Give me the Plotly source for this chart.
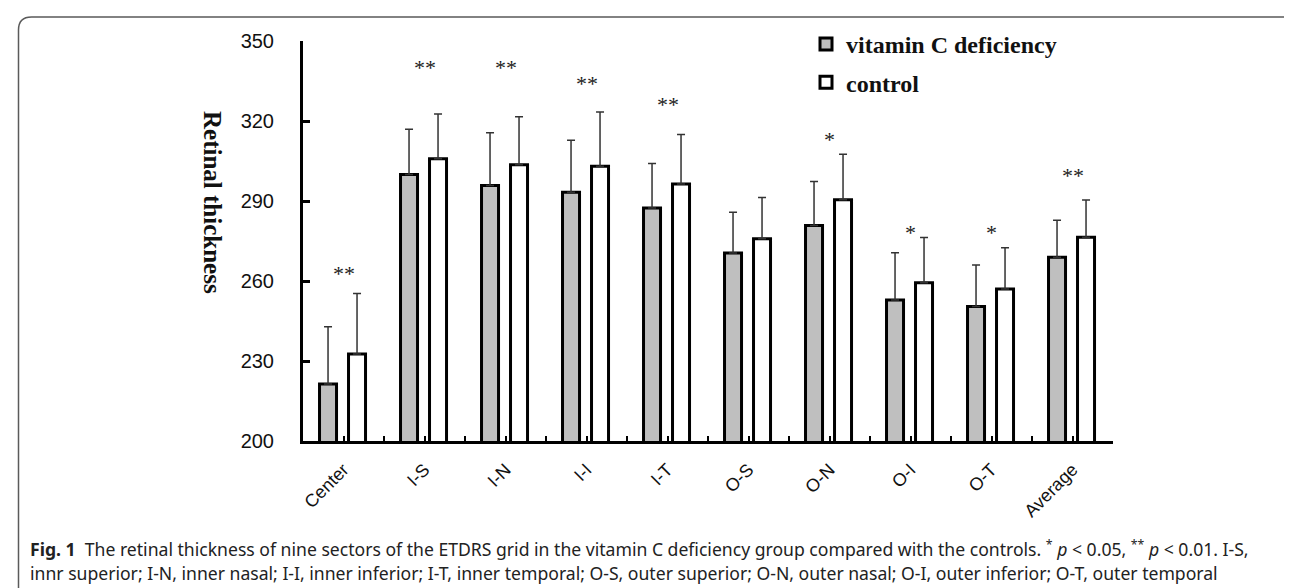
import plotly.graph_objects as go

# ---------------- data ----------------
categories = ["Center", "I-S", "I-N", "I-I", "I-T", "O-S", "O-N", "O-I", "O-T", "Average"]
vitc_values = [221.4, 299.9, 295.8, 293.3, 287.4, 270.5, 280.8, 252.9, 250.4, 268.9]
vitc_sd = [21.4, 17.0, 19.8, 19.5, 16.7, 15.3, 16.5, 17.7, 15.6, 13.9]
control_values = [232.6, 305.8, 303.6, 303.0, 296.4, 275.8, 290.5, 259.3, 257.0, 276.4]
control_sd = [22.7, 16.8, 18.0, 20.4, 18.5, 15.5, 17.0, 17.0, 15.5, 14.0]
sig_marks = ["**", "**", "**", "**", "**", "", "*", "*", "*", "**"]
sig_y = [260.6, 338.0, 338.0, 331.9, 324.0, None, 311.0, 275.9, 275.9, 297.3]
y_ticks = [200, 230, 260, 290, 320, 350]

# ---------------- layout geometry (px) ----------------
W, H = 1292, 588
ML, MR, MT, MB = 295, 187, 33, 155
PW, PH = W - ML - MR, H - MT - MB


def px_x(px):
    return (px - ML) / PW


def px_y(py):
    return (H - MB - py) / PH


x_idx = list(range(len(categories)))

fig = go.Figure()
fig.add_trace(go.Bar(
    x=x_idx, y=vitc_values, name="vitamin C deficiency",
    width=0.21, offset=-0.296,
    marker=dict(color="#bfbfbf", line=dict(color="black", width=3)),
    error_y=dict(type="data", array=vitc_sd, arrayminus=[0] * len(vitc_sd),
                 symmetric=False, color="#333333", thickness=1.5, width=4),
    legendgroup="a",
))
fig.add_trace(go.Bar(
    x=x_idx, y=control_values, name="control",
    width=0.21, offset=0.062,
    marker=dict(color="white", line=dict(color="black", width=3)),
    error_y=dict(type="data", array=control_sd, arrayminus=[0] * len(control_sd),
                 symmetric=False, color="#333333", thickness=1.5, width=4),
    legendgroup="b",
))

annotations = []
for i, (m, yv) in enumerate(zip(sig_marks, sig_y)):
    if not m:
        continue
    annotations.append(dict(
        x=i, y=yv, xref="x", yref="y", text=m, showarrow=False,
        font=dict(family="Liberation Serif", size=22, color="#222222"),
        xanchor="center", yanchor="middle", yshift=6,
    ))

# y-axis title (reads top to bottom)
annotations.append(dict(
    x=px_x(205), y=px_y(194), xref="paper", yref="paper",
    text="<b>Retinal thickness</b>", textangle=90, showarrow=False,
    font=dict(family="Liberation Serif", size=25, color="#111111"),
    xanchor="center", yanchor="middle",
))

# caption
cap1 = ("<b>Fig. 1</b>  The retinal thickness of nine sectors of the ETDRS grid in the vitamin C "
        "deficiency group compared with the controls. <sup>*</sup> <i>p</i> &lt; 0.05, "
        "<sup>**</sup> <i>p</i> &lt; 0.01. I-S,")
cap2 = ("innr superior; I-N, inner nasal; I-I, inner inferior; I-T, inner temporal; O-S, outer "
        "superior; O-N, outer nasal; O-I, outer inferior; O-T, outer temporal")
for txt, cy in ((cap1, 540), (cap2, 565)):
    annotations.append(dict(
        x=px_x(20), y=px_y(cy), xref="paper", yref="paper", text=txt,
        showarrow=False, xanchor="left", yanchor="middle", align="left",
        font=dict(family="Noto Sans", size=17.6, color="#222222"),
    ))

# rounded outer frame
L, T, R, B, r = 10.5, 9, 1290.5, 596, 13
path = (f"M {px_x(L)},{px_y(B)} L {px_x(L)},{px_y(T + r)} "
        f"Q {px_x(L)},{px_y(T)} {px_x(L + r)},{px_y(T)} "
        f"L {px_x(R - r)},{px_y(T)} Q {px_x(R)},{px_y(T)} {px_x(R)},{px_y(T + r)} "
        f"L {px_x(R)},{px_y(B)}")
shapes = [dict(type="path", path=path, xref="paper", yref="paper",
               line=dict(color="#5a5a5a", width=1.5), layer="below")]

fig.update_layout(
    width=W, height=H,
    margin=dict(l=ML, r=MR, t=MT, b=MB, pad=0),
    paper_bgcolor="white", plot_bgcolor="white",
    barmode="overlay",
    showlegend=True,
    legend=dict(
        x=px_x(798), y=px_y(14), xanchor="left", yanchor="top",
        font=dict(family="Liberation Serif", size=24, color="#111111", weight="bold"),
        bgcolor="rgba(0,0,0,0)", tracegroupgap=4, traceorder="grouped",
    ),
    xaxis=dict(
        range=[-0.5, len(categories) - 0.5],
        tickmode="array", tickvals=x_idx, ticktext=categories,
        tickangle=-45,
        ticks="inside", ticklen=5, tickwidth=2, tickcolor="black",
        minor=dict(tickmode="array", tickvals=[i + 0.5 for i in x_idx],
                   ticks="inside", ticklen=5, tickwidth=2, tickcolor="black"),
        showline=True, linecolor="black", linewidth=3,
        showgrid=False, zeroline=False,
        tickfont=dict(family="Liberation Sans", size=18, color="#111111"),
        ticklabelstandoff=8,
    ),
    yaxis=dict(
        range=[200, 350],
        tickmode="array", tickvals=y_ticks,
        ticks="inside", ticklen=7, tickwidth=2.5, tickcolor="black",
        showline=True, linecolor="black", linewidth=3,
        showgrid=False, zeroline=False,
        tickfont=dict(family="Liberation Sans", size=20, color="#111111"),
        ticklabelstandoff=22,
    ),
    annotations=annotations,
    shapes=shapes,
)

fig.write_html("out.html")
